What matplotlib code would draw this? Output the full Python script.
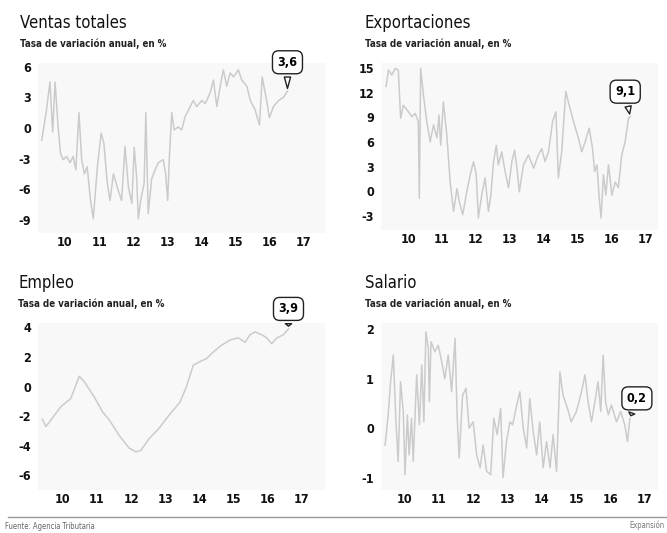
import matplotlib
matplotlib.use("Agg")
import matplotlib.pyplot as plt
from matplotlib import font_manager

# ---------- Data (decimal year, % annual change) ----------
years = [2010, 2011, 2012, 2013, 2014, 2015, 2016, 2017]
year_labels = ["10", "11", "12", "13", "14", "15", "16", "17"]

ventas_x = [2009.32, 2009.46, 2009.56, 2009.64, 2009.71, 2009.80, 2009.87, 2009.95,
            2010.05, 2010.15, 2010.24, 2010.32, 2010.41, 2010.49, 2010.57, 2010.65,
            2010.75, 2010.83, 2010.95, 2011.06, 2011.14, 2011.24, 2011.32, 2011.42,
            2011.56, 2011.66, 2011.76, 2011.86, 2011.96, 2012.03, 2012.10, 2012.15,
            2012.22, 2012.32, 2012.37, 2012.44, 2012.54, 2012.64, 2012.74, 2012.88,
            2012.95, 2013.01, 2013.06, 2013.13, 2013.20, 2013.32, 2013.42, 2013.52,
            2013.67, 2013.76, 2013.86, 2014.01, 2014.11, 2014.25, 2014.35, 2014.45,
            2014.55, 2014.64, 2014.74, 2014.84, 2014.94, 2015.08, 2015.18, 2015.33,
            2015.43, 2015.57, 2015.70, 2015.78, 2015.91, 2015.99, 2016.11, 2016.26,
            2016.40, 2016.52]
ventas_y = [-1.2, 1.8, 4.5, -0.4, 4.5, 0.1, -2.5, -3.1, -2.8, -3.4, -2.8, -4.1, 1.5,
            -3.1, -4.5, -3.8, -7.1, -8.9, -3.8, -0.5, -1.5, -5.4, -7.1, -4.5, -6.1,
            -7.1, -1.8, -5.8, -7.4, -1.9, -4.8, -8.9, -7.1, -5.4, 1.5, -8.4, -5.0,
            -4.1, -3.4, -3.1, -4.5, -7.1, -2.8, 1.5, -0.2, 0.1, -0.2, 1.1, 2.1, 2.7,
            2.1, 2.7, 2.4, 3.4, 4.7, 2.1, 4.1, 5.7, 4.1, 5.4, 5.0, 5.7, 4.7, 4.1, 2.7,
            1.8, 0.3, 5.0, 2.7, 1.0, 2.1, 2.7, 3.0, 3.6]

expo_x = [2009.35, 2009.42, 2009.52, 2009.62, 2009.71, 2009.78, 2009.86, 2010.01,
          2010.11, 2010.21, 2010.30, 2010.33, 2010.37, 2010.45, 2010.55, 2010.65,
          2010.75, 2010.85, 2010.91, 2010.96, 2011.04, 2011.14, 2011.24, 2011.34,
          2011.44, 2011.51, 2011.61, 2011.73, 2011.83, 2011.93, 2012.01, 2012.07,
          2012.17, 2012.27, 2012.37, 2012.44, 2012.52, 2012.60, 2012.66, 2012.76,
          2012.86, 2012.96, 2013.06, 2013.14, 2013.21, 2013.28, 2013.40, 2013.55,
          2013.70, 2013.84, 2013.94, 2014.04, 2014.14, 2014.26, 2014.36, 2014.43,
          2014.53, 2014.65, 2014.75, 2014.88, 2015.02, 2015.12, 2015.22, 2015.34,
          2015.44, 2015.50, 2015.57, 2015.63, 2015.69, 2015.76, 2015.83, 2015.91,
          2016.01, 2016.11, 2016.20, 2016.30, 2016.40, 2016.50, 2016.55]
expo_y = [12.8, 14.8, 14.2, 15.0, 14.8, 8.9, 10.5, 9.7, 9.1, 9.5, 8.5, -0.9, 15.0,
          11.8, 8.5, 6.0, 8.1, 6.5, 9.3, 5.6, 10.9, 6.9, 1.1, -2.5, 0.3, -1.3, -2.9,
          -0.1, 2.0, 3.6, 2.0, -3.3, -0.5, 1.6, -2.5, -0.5, 3.6, 5.6, 3.2, 4.8, 2.4,
          0.4, 3.6, 5.0, 2.8, -0.1, 3.2, 4.4, 2.8, 4.4, 5.2, 3.6, 4.8, 8.5, 9.7, 1.6,
          4.8, 12.2, 10.5, 8.5, 6.5, 4.8, 6.0, 7.7, 5.2, 2.4, 3.2, -0.5, -3.3, 2.0,
          -0.5, 3.2, -0.5, 1.1, 0.4, 4.4, 6.0, 8.9, 9.1]

empleo_x = [2009.40, 2009.50, 2009.60, 2009.94, 2010.23, 2010.48, 2010.62, 2010.92,
            2011.16, 2011.36, 2011.65, 2011.94, 2012.14, 2012.29, 2012.53, 2012.82,
            2013.12, 2013.43, 2013.62, 2013.82, 2014.02, 2014.21, 2014.41, 2014.65,
            2014.90, 2015.14, 2015.34, 2015.48, 2015.63, 2015.83, 2015.97, 2016.12,
            2016.27, 2016.46, 2016.61]
empleo_y = [-2.2, -2.7, -2.4, -1.35, -0.8, 0.7, 0.35, -0.7, -1.7, -2.25, -3.3, -4.15,
            -4.4, -4.3, -3.5, -2.8, -1.9, -1.05, 0.0, 1.45, 1.7, 1.9, 2.35, 2.8, 3.15,
            3.3, 3.0, 3.5, 3.7, 3.5, 3.3, 2.9, 3.3, 3.5, 3.9]

salario_x = [2009.43, 2009.52, 2009.59, 2009.67, 2009.75, 2009.81, 2009.88, 2009.96,
             2010.01, 2010.08, 2010.13, 2010.20, 2010.25, 2010.35, 2010.43, 2010.50,
             2010.56, 2010.62, 2010.69, 2010.72, 2010.77, 2010.88, 2010.98, 2011.08,
             2011.17, 2011.27, 2011.37, 2011.47, 2011.53, 2011.59, 2011.69, 2011.79,
             2011.88, 2012.00, 2012.10, 2012.20, 2012.29, 2012.39, 2012.51, 2012.60,
             2012.70, 2012.80, 2012.87, 2012.97, 2013.07, 2013.15, 2013.27, 2013.36,
             2013.46, 2013.56, 2013.65, 2013.75, 2013.85, 2013.94, 2014.04, 2014.14,
             2014.24, 2014.33, 2014.43, 2014.53, 2014.62, 2014.75, 2014.86, 2015.01,
             2015.16, 2015.26, 2015.35, 2015.45, 2015.55, 2015.64, 2015.72, 2015.79,
             2015.86, 2015.94, 2016.03, 2016.18, 2016.30, 2016.42, 2016.50, 2016.57]
salario_y = [-0.34, 0.27, 0.94, 1.48, 0.07, -0.67, 0.94, 0.34, -0.94, 0.27, -0.54, 0.2,
             -0.67, 1.08, 0.07, 1.28, 0.13, 1.95, 1.62, 0.54, 1.75, 1.55, 1.68, 1.35,
             1.0, 1.48, 0.74, 1.82, 0.27, -0.6, 0.67, 0.81, 0.0, 0.13, -0.54, -0.8,
             -0.34, -0.87, -0.94, 0.2, -0.13, 0.4, -1.0, -0.27, 0.13, 0.07, 0.47, 0.74,
             0.0, -0.4, 0.6, -0.07, -0.54, 0.13, -0.8, -0.27, -0.8, -0.13, -0.87, 1.14,
             0.67, 0.4, 0.13, 0.34, 0.74, 1.08, 0.54, 0.13, 0.54, 0.94, 0.34, 1.48,
             0.54, 0.27, 0.47, 0.13, 0.34, 0.07, -0.27, 0.2]

ventas_ticks = [6, 3, 0, -3, -6, -9]
expo_ticks = [15, 12, 9, 6, 3, 0, -3]
empleo_ticks = [4, 2, 0, -2, -4, -6]
salario_ticks = [2, 1, 0, -1]

titles = ["Ventas totales", "Exportaciones", "Empleo", "Salario"]
subtitle = "Tasa de variación anual, en %"
last_labels = ["3,6", "9,1", "3,9", "0,2"]

# ---------- Styling ----------
W, H = 667, 533
LINE = "#cbcbcb"
BG = "#f8f8f8"


def font(size, weight="bold"):
    # condensed look of the newspaper type
    return font_manager.FontProperties(family="DejaVu Sans", stretch="condensed",
                                       weight=weight, size=size)


fig = plt.figure(figsize=(W / 100, H / 100), dpi=100)
fig.patch.set_facecolor("white")


def px_axes(x0, y0, x1, y1):
    return fig.add_axes([x0 / W, 1 - y1 / H, (x1 - x0) / W, (y1 - y0) / H])


def draw_panel(ax, x, y, yticks, xlim, ylim, label, offset):
    ax.set_facecolor(BG)
    ax.plot(x, y, color=LINE, lw=1.1)
    ax.set_xlim(*xlim)
    ax.set_ylim(*ylim)
    for s in ax.spines.values():
        s.set_visible(False)
    ax.set_xticks(years)
    ax.set_xticklabels(year_labels, fontproperties=font(9))
    ax.set_yticks(yticks)
    ax.set_yticklabels([str(v) for v in yticks], fontproperties=font(9))
    ax.tick_params(axis="x", length=0, pad=2, colors="#111")
    ax.tick_params(axis="y", length=0, pad=5, colors="#111")
    ax.annotate(label, xy=(x[-1], y[-1]), xytext=offset, textcoords="offset pixels",
                ha="center", va="center", fontproperties=font(9),
                bbox=dict(boxstyle="round,pad=0.4,rounding_size=0.5", fc="white",
                          ec="#222", lw=1),
                arrowprops=dict(arrowstyle="wedge,tail_width=0.5,shrink_factor=0.5",
                                fc="white", ec="#222", lw=1),
                annotation_clip=False)


ax1 = px_axes(38, 63, 325, 233)
draw_panel(ax1, ventas_x, ventas_y, ventas_ticks, (2009.21, 2017.62), (-10.29, 6.37),
           last_labels[0], (0, 29))
ax2 = px_axes(381, 63, 658, 230)
draw_panel(ax2, expo_x, expo_y, expo_ticks, (2009.20, 2017.37), (-4.77, 15.67),
           last_labels[1], (-5, 25))
ax3 = px_axes(38, 323, 325, 490)
draw_panel(ax3, empleo_x, empleo_y, empleo_ticks, (2009.27, 2017.68), (-6.98, 4.30),
           last_labels[2], (0, 20))
ax4 = px_axes(381, 323, 658, 490)
draw_panel(ax4, salario_x, salario_y, salario_ticks, (2009.31, 2017.39), (-1.25, 2.13),
           last_labels[3], (7, 20))

# ---------- Titles ----------
title_pos = [(20, 28), (365, 28), (18, 288), (365, 288)]
for (tx, ty), t in zip(title_pos, titles):
    fig.text(tx / W, 1 - ty / H, t, fontproperties=font(12, "normal"),
             color="#111", va="baseline")
    fig.text(tx / W, 1 - (ty + 19) / H, subtitle, fontproperties=font(7),
             color="#222", va="baseline")

# ---------- Footer ----------
fig.add_artist(plt.Line2D([8 / W, 1], [1 - 517 / H] * 2, color="#999", lw=1))
fig.text(5 / W, 1 - 529 / H, "Fuente: Agencia Tributaria",
         fontproperties=font(5.5, "normal"), color="#666", va="baseline")
fig.text(665 / W, 1 - 528 / H, "Expansión", fontproperties=font(5.5, "normal"),
         color="#777", va="baseline", ha="right")

fig.savefig("out.png", dpi=100, facecolor="white")
